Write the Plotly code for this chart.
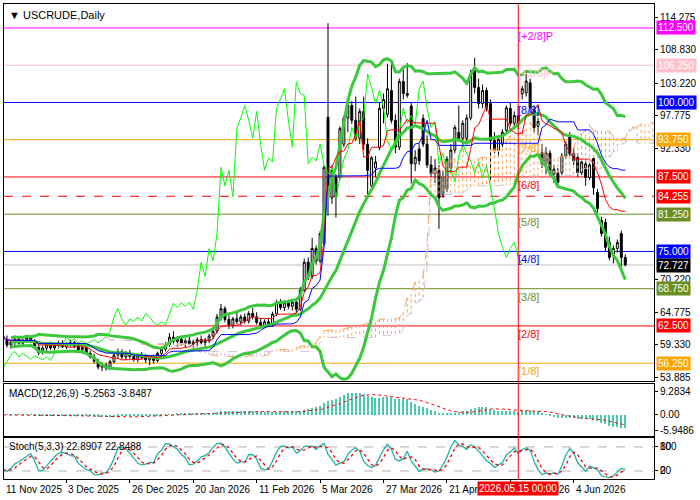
import numpy as np
import pandas as pd
import plotly.graph_objects as go

# ---------------- data ----------------
opens = [60.8,60.2,59.3,59.8,60.3,59.6,60.1,60.5,59.9,58.9,
         58.0,58.8,59.4,58.8,59.2,59.6,59.0,59.5,59.7,59.1,
         58.5,58.9,57.9,57.3,56.6,55.6,55.9,55.4,56.5,57.6,
         58.2,57.3,57.9,57.4,56.9,57.5,57.2,56.8,57.3,56.7,
         57.9,58.6,59.4,60.6,59.9,60.3,59.6,60.0,59.5,59.8,
         60.2,59.7,60.1,60.8,61.6,64.0,65.4,63.6,62.6,63.7,
         63.2,64.0,63.3,64.6,64.0,63.1,62.6,63.2,62.7,64.5,
         66.3,65.6,66.4,65.8,66.5,65.3,68.5,73.2,70.8,75.5,
         73.4,76.3,97.5,84.0,87.4,87.4,93.0,97.4,99.5,97.0,
         94.0,98.5,93.0,86.0,89.0,92.4,99.0,98.0,102.0,97.0,
         92.5,103.5,101.5,99.4,89.7,92.2,97.3,93.0,89.5,88.0,
         88.6,84.5,85.5,89.0,92.0,95.0,94.0,94.0,97.4,105.3,
         102.5,99.8,102.0,99.8,93.6,92.0,93.0,95.3,99.0,96.5,
         97.8,101.5,101.6,103.3,98.6,96.0,91.6,89.7,91.5,88.0,
         88.2,88.2,91.0,94.4,91.4,90.8,88.2,89.7,87.4,90.6,
         84.9,80.2,79.9,76.5,74.5,75.5,78.0,74.0]
highs = [61.5,60.9,60.1,60.6,60.8,60.4,61.0,60.9,60.3,59.4,
         59.1,59.7,59.9,59.6,60.0,60.1,59.8,60.2,60.0,59.6,
         59.3,59.2,58.4,57.8,57.0,56.4,56.3,56.8,57.9,58.7,
         58.6,58.3,58.5,58.0,57.7,58.1,57.8,57.6,57.7,58.2,
         59.0,59.8,61.3,61.6,60.8,60.9,60.4,60.7,60.2,60.6,
         60.9,60.5,61.2,62.0,64.5,66.2,65.8,64.3,64.0,64.8,
         64.4,64.6,65.0,65.5,64.8,63.8,63.6,63.9,64.9,66.9,
         67.0,66.8,66.9,66.7,67.2,69.0,73.8,74.0,77.3,76.0,
         78.4,89.5,113.3,89.5,88.0,96.0,97.8,100.5,100.2,101.0,
         99.0,101.0,94.0,91.0,91.0,100.0,101.5,106.5,106.8,98.0,
         104.0,105.5,106.6,100.0,92.0,93.0,98.0,94.5,91.0,90.5,
         89.5,88.6,91.0,93.0,96.2,99.5,97.0,98.0,105.5,107.5,
         104.0,103.0,102.5,100.5,95.0,94.5,95.5,99.5,100.0,98.5,
         99.5,102.8,104.8,104.0,99.5,97.5,93.0,92.5,92.0,89.5,
         89.0,91.5,93.5,95.0,92.5,91.5,90.5,90.5,90.0,91.0,
         85.5,80.8,80.5,77.5,76.0,77.0,78.5,74.5]
lows = [59.8,58.9,58.7,59.2,59.4,59.0,59.7,59.6,58.6,57.6,
        57.7,58.3,58.5,58.4,58.9,58.8,58.6,59.0,58.8,58.2,
        57.9,57.6,57.0,56.2,55.2,54.9,55.0,55.1,56.2,57.1,
        56.9,56.8,57.0,56.5,56.4,56.9,56.3,55.9,56.2,56.4,
        57.3,58.2,59.0,59.5,59.0,59.2,58.9,59.3,58.7,59.1,
        59.4,59.0,59.6,60.3,61.2,63.4,63.1,62.0,62.1,62.8,
        62.6,62.9,62.9,63.6,62.7,62.0,62.1,62.3,62.4,64.1,
        65.2,65.0,65.3,65.1,64.6,65.0,68.2,70.2,70.4,72.8,
        73.0,76.0,81.0,83.0,80.7,87.0,92.5,95.0,96.4,93.5,
        93.0,92.0,84.0,85.5,87.5,92.0,96.5,97.5,96.5,91.5,
        92.0,100.5,100.8,86.4,88.5,89.5,92.5,89.0,87.5,86.5,
        78.8,84.0,85.0,88.5,91.5,93.5,92.5,93.5,97.0,101.5,
        99.0,99.0,98.5,86.9,91.5,91.0,92.5,95.0,96.0,95.5,
        95.5,100.5,101.0,98.0,95.0,94.5,89.0,88.0,87.5,86.5,
        86.0,87.8,90.5,91.0,89.5,87.5,87.8,86.0,87.0,84.5,
        81.5,77.5,75.0,73.5,73.0,74.8,72.5,72.5]
closes = [60.2,59.3,59.8,60.3,59.6,60.1,60.5,59.9,58.9,58.0,
          58.8,59.4,58.8,59.2,59.6,59.0,59.5,59.7,59.1,58.5,
          58.9,57.9,57.3,56.6,55.6,55.9,55.4,56.5,57.6,58.2,
          57.3,57.9,57.4,56.9,57.5,57.2,56.8,57.3,56.7,57.9,
          58.6,59.4,60.6,59.9,60.3,59.6,60.0,59.5,59.8,60.2,
          59.7,60.1,60.8,61.6,64.0,65.4,63.6,62.6,63.7,63.2,
          64.0,63.3,64.6,64.0,63.1,62.6,63.2,62.7,64.5,66.3,
          65.6,66.4,65.8,66.5,65.3,68.5,73.2,70.8,75.5,73.4,
          78.0,89.1,86.0,88.6,84.2,95.6,97.4,99.5,97.0,94.0,
          98.5,93.0,88.6,90.7,90.0,99.0,100.5,102.3,97.0,92.5,
          103.5,101.5,101.2,89.7,90.8,90.2,93.0,89.5,88.0,89.0,
          84.0,87.5,90.5,92.0,95.8,94.0,96.5,97.4,104.8,102.5,
          99.8,102.0,99.2,93.6,92.0,93.8,95.0,99.1,96.5,97.8,
          96.3,102.3,103.6,99.1,95.8,96.8,89.7,91.5,88.0,88.8,
          86.6,91.0,93.0,91.4,90.2,88.2,90.0,87.4,89.5,85.7,
          82.2,78.0,75.7,74.0,75.5,76.5,74.0,72.727]

date_labels = ["11 Nov 2025", "3 Dec 2025", "26 Dec 2025", "20 Jan 2026", "11 Feb 2026",
               "5 Mar 2026", "27 Mar 2026", "21 Apr 2026", "13 May 2026", "4 Jun 2026"]
cursor_label = "2026.05.15 00:00"
cursor_bar = 130

murray_levels = [112.5, 106.25, 100.0, 93.75, 87.5, 81.25, 75.0, 68.75, 62.5, 56.25]
murray_names = ["[+2/8]P", "[+1/8]P", "[8/8]", "[7/8]", "[6/8]", "[5/8]", "[4/8]", "[3/8]", "[2/8]", "[1/8]"]
murray_colors = ["#FF00FF", "#FFC0CB", "#0000FF", "#FFA500", "#FF0000", "#6B8E23",
                 "#0000FF", "#6B8E23", "#FF0000", "#FFA500"]
pivot_level = 84.255
last_price = 72.727

price_ticks = [114.275, 108.830, 103.220, 97.775, 92.330, 70.220, 64.775, 59.330, 53.885]
macd_ticks = [9.2834, 0.0, -5.9486]
macd_tick_text = ["9.2834", "0.00", "-5.9486"]
macd_title = "MACD(12,26,9) -5.2563 -3.8487"
stoch_title = "Stoch(5,3,3) 22.8907 22.8488"
chart_title = "\u25BC USCRUDE,Daily"

# ---------------- indicators ----------------
df = pd.DataFrame({"o": opens, "h": highs, "l": lows, "c": closes})
n = len(df)
x = np.arange(n)

mid = df.c.rolling(20, min_periods=3).mean()
sd = df.c.rolling(20, min_periods=3).std(ddof=0)
bb_up, bb_lo = mid + 2 * sd, mid - 2 * sd

def hl_mid(p):
    return (df.h.rolling(p, min_periods=1).max() + df.l.rolling(p, min_periods=1).min()) / 2

tenkan = hl_mid(9)
kijun = hl_mid(26)
span_a = (tenkan + kijun) / 2
span_b = hl_mid(52)
SHIFT = 26

ema12 = df.c.ewm(span=12, adjust=False).mean()
ema26 = df.c.ewm(span=26, adjust=False).mean()
macd = ema12 - ema26
macd_sig = macd.rolling(9, min_periods=1).mean()

ll = df.l.rolling(5, min_periods=1).min()
hh = df.h.rolling(5, min_periods=1).max()
num = (df.c - ll).rolling(3, min_periods=1).sum()
den = (hh - ll).rolling(3, min_periods=1).sum()
stk = 100 * num / den.replace(0, np.nan)
std_ = stk.rolling(3, min_periods=1).mean()

# ---------------- figure ----------------
FONT = "Liberation Sans"
fig = go.Figure()

XR = [0.25, 164.25]

# Ichimoku cloud hatch
hx_a, hy_a, hx_b, hy_b = [], [], [], []
for i in range(n):
    j = i + SHIFT
    if j > XR[1] + 1:
        continue
    a, b = span_a[i], span_b[i]
    if a >= b:
        hx_a += [j, j, None]; hy_a += [a, b, None]
    else:
        hx_b += [j, j, None]; hy_b += [a, b, None]
fig.add_trace(go.Scatter(x=hx_a, y=hy_a, mode="lines", line=dict(color="#F4A460", width=1, dash="dot"), hoverinfo="skip"))
fig.add_trace(go.Scatter(x=hx_b, y=hy_b, mode="lines", line=dict(color="#D8BFD8", width=1, dash="dot"), hoverinfo="skip"))
fig.add_trace(go.Scatter(x=x + SHIFT, y=span_a, mode="lines", line=dict(color="#F4A460", width=1, dash="dash"), hoverinfo="skip"))
fig.add_trace(go.Scatter(x=x + SHIFT, y=span_b, mode="lines", line=dict(color="#D8BFD8", width=1, dash="dash"), hoverinfo="skip"))

# candles
fig.add_trace(go.Candlestick(
    x=x, open=df.o, high=df.h, low=df.l, close=df.c,
    increasing=dict(line=dict(color="black", width=1), fillcolor="white"),
    decreasing=dict(line=dict(color="black", width=1), fillcolor="black"),
    whiskerwidth=0, hoverinfo="skip"))

# Bollinger
for s in (bb_up, mid, bb_lo):
    fig.add_trace(go.Scatter(x=x, y=s, mode="lines", line=dict(color="#3CC83C", width=3), hoverinfo="skip"))
# Chikou
fig.add_trace(go.Scatter(x=x - SHIFT, y=df.c, mode="lines", line=dict(color="#00FF00", width=1), hoverinfo="skip"))
# Tenkan / Kijun
fig.add_trace(go.Scatter(x=x, y=tenkan, mode="lines", line=dict(color="#FF0000", width=1), hoverinfo="skip"))
fig.add_trace(go.Scatter(x=x, y=kijun, mode="lines", line=dict(color="#0000FF", width=1), hoverinfo="skip"))

# MACD
fig.add_trace(go.Bar(x=x, y=macd, marker=dict(color="#48C9B0", line=dict(width=0)), width=0.3,
                     xaxis="x2", yaxis="y2", hoverinfo="skip"))
fig.add_trace(go.Scatter(x=x, y=macd_sig, mode="lines", line=dict(color="#FF0000", width=1, dash="dot"),
                         xaxis="x2", yaxis="y2", hoverinfo="skip"))
# Stoch
fig.add_trace(go.Scatter(x=x, y=stk, mode="lines", line=dict(color="#20B2AA", width=1.3),
                         xaxis="x3", yaxis="y3", hoverinfo="skip"))
fig.add_trace(go.Scatter(x=x, y=std_, mode="lines", line=dict(color="#FF0000", width=1.3, dash="dot"),
                         xaxis="x3", yaxis="y3", hoverinfo="skip"))

shapes = []
for lv, col in zip(murray_levels, murray_colors):
    shapes.append(dict(type="line", xref="x domain", yref="y", x0=0, x1=1, y0=lv, y1=lv,
                       line=dict(color=col, width=1), layer="below"))
shapes.append(dict(type="line", xref="x domain", yref="y", x0=0, x1=1, y0=pivot_level, y1=pivot_level,
                   line=dict(color="#FF0000", width=1, dash="dash"), layer="below"))
shapes.append(dict(type="line", xref="x domain", yref="y", x0=0, x1=1, y0=last_price, y1=last_price,
                   line=dict(color="#C0C0C0", width=1), layer="below"))
for lv in (80, 20):
    shapes.append(dict(type="line", xref="x3 domain", yref="y3", x0=0, x1=1, y0=lv, y1=lv,
                       line=dict(color="#B0B0B0", width=1, dash="dash"), layer="below"))
shapes.append(dict(type="line", xref="x", yref="paper", x0=cursor_bar, x1=cursor_bar, y0=0, y1=1,
                   line=dict(color="#FF0000", width=1)))

ann = []
ann.append(dict(text=chart_title, xref="paper", yref="paper", x=0, y=1, xanchor="left", yanchor="top",
                xshift=3, yshift=-3, showarrow=False, font=dict(family=FONT, size=11, color="black")))
ann.append(dict(text=macd_title, xref="paper", yref="y2 domain", x=0, y=1, xanchor="left", yanchor="top",
                xshift=3, yshift=-2, showarrow=False, font=dict(family=FONT, size=10, color="black")))
ann.append(dict(text=stoch_title, xref="paper", yref="y3 domain", x=0, y=1, xanchor="left", yanchor="top",
                xshift=3, yshift=-1, showarrow=False, font=dict(family=FONT, size=10, color="black")))
for name, lv, col in zip(murray_names, murray_levels, murray_colors):
    ann.append(dict(text=name, xref="x", yref="y", x=cursor_bar - 0.6, y=lv, xanchor="left", yanchor="middle",
                    yshift=-8, showarrow=False, font=dict(family=FONT, size=11, color=col)))
box_levels = murray_levels + [pivot_level, last_price]
box_colors = murray_colors + ["#FF0000", "#000000"]
for lv, col in zip(box_levels, box_colors):
    ann.append(dict(text=f"{lv:.3f}", xref="paper", yref="y", x=1, y=lv, xanchor="left", yanchor="middle",
                    xshift=2, showarrow=False, bgcolor=col, borderpad=1,
                    font=dict(family=FONT, size=10, color="white")))
for k, lab in enumerate(date_labels):
    ann.append(dict(text=lab, xref="x3", yref="paper", x=max(k * 16, 0.3), y=0, xanchor="left", yanchor="top",
                    yshift=-3, xshift=0, showarrow=False, font=dict(family=FONT, size=10, color="black")))
ann.append(dict(text=cursor_label, xref="x3", yref="paper", x=cursor_bar, y=0, xanchor="center", yanchor="top",
                yshift=-2, showarrow=False, bgcolor="#FF0000", borderpad=1,
                font=dict(family=FONT, size=10, color="white")))
for t, lv in (("100", 80), ("80", 80), ("20", 20), ("0", 20)):
    ann.append(dict(text=t, xref="paper", yref="y3", x=1, y=lv, xanchor="left", yanchor="middle",
                    xshift=4, showarrow=False, font=dict(family=FONT, size=10, color="black")))

axis_common = dict(showgrid=False, zeroline=False, showline=True, mirror=True, linecolor="black", linewidth=1)

fig.update_layout(
    width=700, height=500,
    margin=dict(l=4, r=40, t=3, b=21),
    paper_bgcolor="white", plot_bgcolor="white",
    showlegend=False, bargap=0,
    font=dict(family=FONT, size=10, color="black"),
    shapes=shapes, annotations=ann,
    xaxis=dict(domain=[0, 1], range=XR, anchor="y", showticklabels=False, ticks="",
               rangeslider=dict(visible=False), **axis_common),
    xaxis2=dict(domain=[0, 1], range=XR, anchor="y2", matches="x", showticklabels=False, ticks="", **axis_common),
    xaxis3=dict(domain=[0, 1], range=XR, anchor="y3", matches="x", showticklabels=False,
                tickvals=[k * 16 for k in range(len(date_labels))], ticks="outside", ticklen=3,
                tickcolor="black", **axis_common),
    yaxis=dict(domain=[0.2059, 1], range=[53.23, 116.52], side="right", tickvals=price_ticks,
               ticktext=[f"{v:.3f}" for v in price_ticks], ticks="outside", ticklen=3, tickcolor="black",
               tickfont=dict(family=FONT, size=10), **axis_common),
    yaxis2=dict(domain=[0.0903, 0.1996], range=[-8.29, 12.02], side="right", anchor="x2",
                tickvals=macd_ticks, ticktext=macd_tick_text, ticks="outside", ticklen=3, tickcolor="black",
                tickfont=dict(family=FONT, size=10), **axis_common),
    yaxis3=dict(domain=[0, 0.0861], range=[0, 102], side="right", anchor="x3", showticklabels=False,
                tickvals=[80, 20], ticks="outside", ticklen=3, tickcolor="black", **axis_common),
)

fig.write_html("out.html")
